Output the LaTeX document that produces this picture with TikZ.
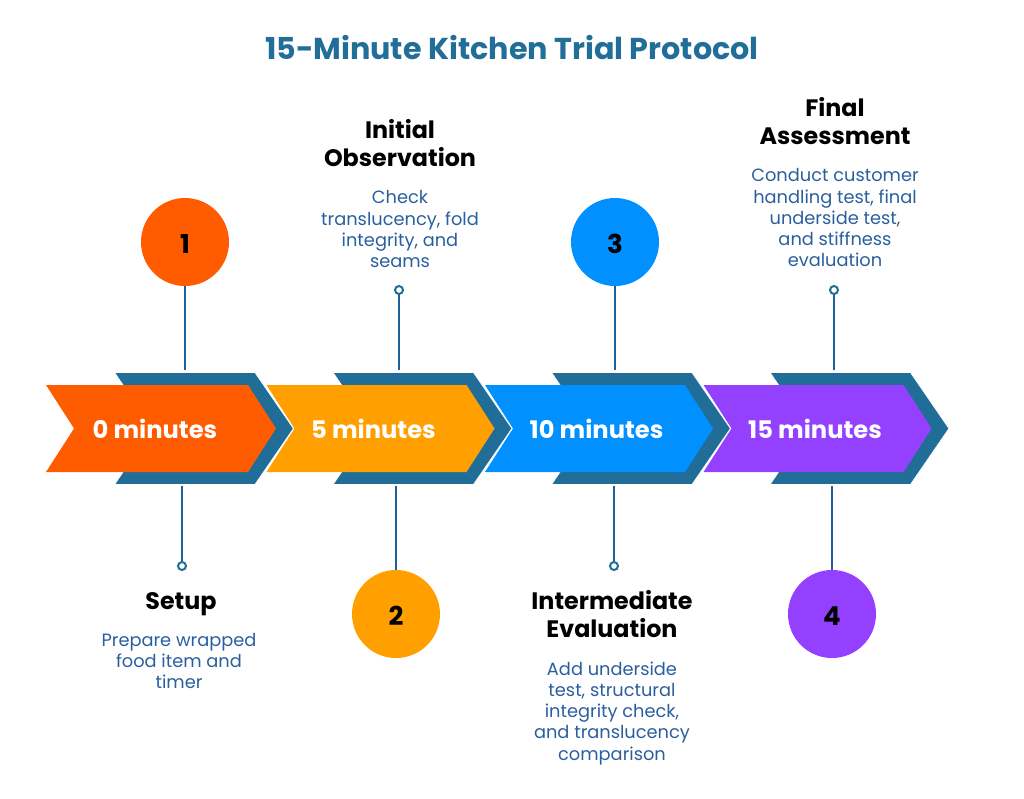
\documentclass[tikz,border=0pt]{standalone}
\usepackage{fontspec}
\usepackage{tikz}
\usetikzlibrary{positioning}
\setmainfont{Poppins}
\definecolor{titleblue}{HTML}{216E99}
\definecolor{darkband}{HTML}{206E98}
\definecolor{stemblue}{HTML}{1F5F9C}
\definecolor{bodyblue}{HTML}{2A5F9E}
\definecolor{stepA}{HTML}{FF5C00}
\definecolor{stepB}{HTML}{FFA000}
\definecolor{stepC}{HTML}{0090FF}
\definecolor{stepD}{HTML}{9440FF}
\tikzset{
  numdisc/.style={circle,minimum size=88pt,inner sep=0pt,text=black,text height=22pt,text depth=0pt,font=\fontsize{26}{28}\selectfont\bfseries},
  ringdot/.style={circle,draw=darkband,fill=white,line width=2pt,minimum size=8pt,inner sep=0pt},
  stem/.style={draw=stemblue,line width=2pt},
  heading/.style={align=center,inner sep=0pt,text=black,font=\fontsize{23.8}{28}\selectfont\bfseries},
  bodytext/.style={align=center,inner sep=0pt,text=bodyblue,font=\fontsize{17.8}{21.3}\selectfont},
  steplabel/.style={anchor=west,text=white,inner sep=0pt,font=\fontsize{24.2}{28}\selectfont\bfseries},
}
\begin{document}
\begin{tikzpicture}[x=1pt,y=-1pt]
\useasboundingbox (0,0) rectangle (1024,798);
\node[text=titleblue,font=\fontsize{30.2}{34}\selectfont\bfseries] (title) at (512,48) {15-Minute Kitchen Trial Protocol};
% arrows, last one first
\foreach \i/\col/\dx/\lx/\txt in {4/stepD/655.5/2/15 minutes,3/stepC/437/2/10 minutes,2/stepB/218.5/2/5 minutes,1/stepA/0/0/0 minutes}{
  \begin{scope}[xshift=\dx pt]
    \draw[fill=darkband,draw=white,line width=.8pt] (114.5,372.5) -- (255,372.5) -- (293.5,428.5) -- (255,484.5) -- (114.5,484.5) -- (152.5,428.5) -- cycle;
    \fill[\col] (46+\lx,385) -- (248,385) -- (276,428.5) -- (248,472) -- (46+\lx,472) -- (74+\lx,428.5) -- cycle;
    \node[steplabel] (lab\i) at (92.5,429) {\txt};
  \end{scope}
}
% numbered discs
\node[numdisc,fill=stepA] (c1) at (185,242) {1};
\node[numdisc,fill=stepB] (c2) at (396,614) {2};
\node[numdisc,fill=stepC] (c3) at (615,242) {3};
\node[numdisc,fill=stepD] (c4) at (832,614) {4};
\node[ringdot] (d1) at (182,566) {};
\node[ringdot] (d2) at (399,290) {};
\node[ringdot] (d3) at (614,566) {};
\node[ringdot] (d4) at (834,290) {};
\coordinate (t1) at (185,370);
\coordinate (t2) at (399,370);
\coordinate (t3) at (615,370);
\coordinate (t4) at (834,370);
\coordinate (b1) at (182,486);
\coordinate (b2) at (396,486);
\coordinate (b3) at (614,486);
\coordinate (b4) at (832,486);
\path[stem]
  (c1) -- (t1)
  (d2) -- (t2)
  (c3) -- (t3)
  (d4) -- (t4)
  (b1) -- (d1)
  (b2) -- (c2)
  (b3) -- (d3)
  (b4) -- (c4);
% texts
\node[heading] (h1) at (181,604) {Setup};
\node[bodytext,below=17pt of h1,xshift=-2pt] (t-setup) {Prepare wrapped\\food item and\\timer};
\node[heading] (h2) at (400,143.5) {Initial\\Observation};
\node[bodytext,below=23pt of h2] (t-initial) {Check\\translucency, fold\\integrity, and\\seams};
\node[heading] (h3) at (612,614.5) {Intermediate\\Evaluation};
\node[bodytext,below=23pt of h3] (t-inter) {Add underside\\test, structural\\integrity check,\\and translucency\\comparison};
\node[heading] (h4) at (835,121.5) {Final\\Assessment};
\node[bodytext,below=23pt of h4] (t-final) {Conduct customer\\handling test, final\\underside test,\\and stiffness\\evaluation};
\end{tikzpicture}
\end{document}
